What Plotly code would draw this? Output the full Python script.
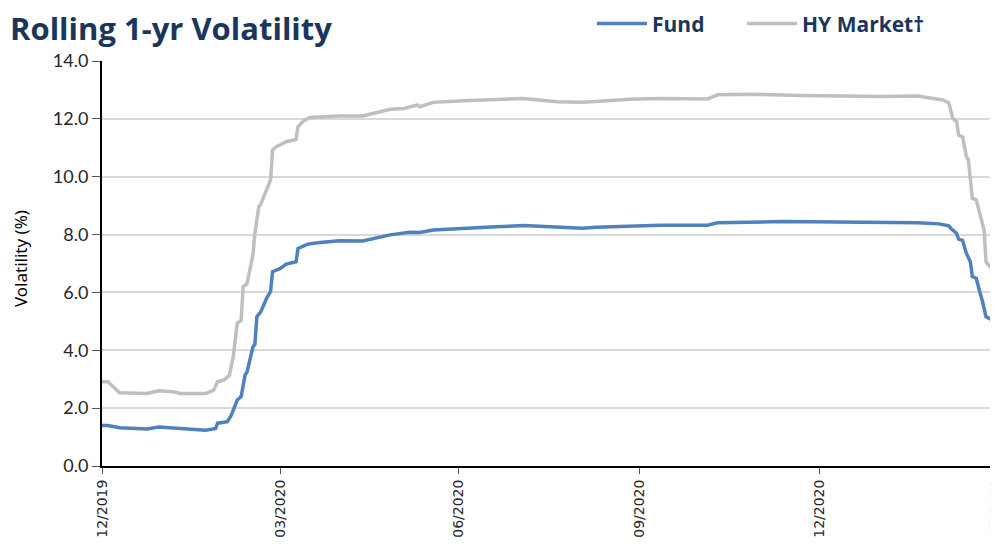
import plotly.graph_objects as go

# ---- data ----
fund_dates = [
    "2019-12-31", "2020-01-03", "2020-01-09", "2020-01-23", "2020-01-29", "2020-02-05",
    "2020-02-14", "2020-02-22", "2020-02-27", "2020-02-28", "2020-03-04", "2020-03-06",
    "2020-03-09", "2020-03-11", "2020-03-13", "2020-03-14", "2020-03-17", "2020-03-18",
    "2020-03-19", "2020-03-21", "2020-03-24", "2020-03-26", "2020-03-27", "2020-03-31",
    "2020-04-03", "2020-04-08", "2020-04-09", "2020-04-14", "2020-04-19", "2020-04-30",
    "2020-05-12", "2020-05-26", "2020-06-05", "2020-06-10", "2020-06-17", "2020-07-02",
    "2020-07-19", "2020-08-02", "2020-08-22", "2020-09-01", "2020-09-08", "2020-09-25",
    "2020-10-11", "2020-11-04", "2020-11-09", "2020-12-12", "2021-01-16", "2021-02-19",
    "2021-03-02", "2021-03-07", "2021-03-08", "2021-03-11", "2021-03-12", "2021-03-14",
    "2021-03-16", "2021-03-18", "2021-03-19", "2021-03-21", "2021-03-23", "2021-03-24",
    "2021-03-26", "2021-03-28", "2021-03-31",
]
fund_vol = [
    1.40, 1.40, 1.32, 1.28, 1.35, 1.31,
    1.27, 1.24, 1.30, 1.48, 1.53, 1.76,
    2.28, 2.40, 3.15, 3.25, 4.12, 4.20,
    5.16, 5.33, 5.80, 6.03, 6.72, 6.83,
    6.98, 7.06, 7.52, 7.67, 7.72, 7.79,
    7.78, 7.99, 8.08, 8.07, 8.16, 8.22,
    8.27, 8.31, 8.25, 8.22, 8.25, 8.29,
    8.32, 8.32, 8.41, 8.45, 8.42, 8.41,
    8.37, 8.30, 8.22, 8.04, 7.84, 7.80,
    7.35, 7.06, 6.55, 6.49, 5.97, 5.74,
    5.16, 5.10, 4.99,
]

hy_dates = [
    "2019-12-31", "2020-01-03", "2020-01-09", "2020-01-23", "2020-01-29", "2020-02-05",
    "2020-02-09", "2020-02-22", "2020-02-26", "2020-02-28", "2020-03-02", "2020-03-05",
    "2020-03-07", "2020-03-09", "2020-03-11", "2020-03-12", "2020-03-14", "2020-03-17",
    "2020-03-18", "2020-03-20", "2020-03-21", "2020-03-24", "2020-03-26", "2020-03-27",
    "2020-03-29", "2020-04-03", "2020-04-08", "2020-04-09", "2020-04-12", "2020-04-15",
    "2020-04-30", "2020-05-12", "2020-05-26", "2020-06-02", "2020-06-09", "2020-06-10",
    "2020-06-17", "2020-07-02", "2020-07-19", "2020-08-02", "2020-08-19", "2020-09-01",
    "2020-09-08", "2020-09-25", "2020-10-11", "2020-11-04", "2020-11-09", "2020-11-26",
    "2020-12-21", "2021-01-16", "2021-02-01", "2021-02-19", "2021-02-27", "2021-03-04",
    "2021-03-07", "2021-03-09", "2021-03-11", "2021-03-12", "2021-03-14", "2021-03-16",
    "2021-03-17", "2021-03-19", "2021-03-21", "2021-03-24", "2021-03-25", "2021-03-26",
    "2021-03-28", "2021-03-31",
]
hy_vol = [
    2.91, 2.91, 2.53, 2.51, 2.60, 2.57,
    2.51, 2.51, 2.62, 2.91, 2.97, 3.13,
    3.80, 4.94, 5.03, 6.20, 6.30, 7.30,
    8.05, 8.96, 9.05, 9.54, 9.89, 10.92,
    11.04, 11.21, 11.29, 11.73, 11.94, 12.05,
    12.10, 12.10, 12.33, 12.36, 12.48, 12.42,
    12.57, 12.63, 12.68, 12.70, 12.59, 12.57,
    12.60, 12.68, 12.70, 12.69, 12.83, 12.85,
    12.81, 12.79, 12.77, 12.79, 12.71, 12.65,
    12.56, 12.02, 11.90, 11.44, 11.38, 10.69,
    10.58, 9.25, 9.20, 8.33, 8.16, 7.06,
    6.89, 6.75,
]

tick_dates = ["2019-12-31", "2020-03-31", "2020-06-30", "2020-09-30", "2020-12-31", "2021-03-31"]
tick_labels = ["12/2019", "03/2020", "06/2020", "09/2020", "12/2020", "03/2021"]
y_ticks = [0, 2, 4, 6, 8, 10, 12, 14]

NAVY = "#1B365D"
W, H = 990, 536  # page body adds an 8px offset

fig = go.Figure()
fig.add_trace(go.Scatter(
    x=fund_dates, y=fund_vol, name="Fund", mode="lines",
    line=dict(color="#4F81BD", width=3.5), legend="legend",
))
fig.add_trace(go.Scatter(
    x=hy_dates, y=hy_vol, name="HY Market†", mode="lines",
    line=dict(color="#BFBFBF", width=3.5), legend="legend2",
))

legend_style = dict(
    orientation="h", xanchor="left", y=1.092, yanchor="middle",
    font=dict(family="Open Sans", size=21, color=NAVY, weight="bold"),
    itemwidth=50, bgcolor="rgba(0,0,0,0)",
)

fig.update_layout(
    width=W, height=H,
    margin=dict(l=94, r=2, t=53, b=78, autoexpand=False),
    paper_bgcolor="white", plot_bgcolor="white",
    title=dict(
        text="<b>Rolling 1-yr Volatility</b>",
        font=dict(family="Open Sans", size=31, color=NAVY),
        x=2 / W, xref="container", xanchor="left",
        y=1 - 21 / H, yref="container", yanchor="middle",
        pad=dict(l=0, r=0, t=0, b=0),
    ),
    legend=dict(x=0.5481, **legend_style),
    legend2=dict(x=0.7159, **legend_style),
    showlegend=True,
    annotations=[dict(
        text="Volatility (%)", textangle=-90,
        xref="paper", yref="paper", x=(20 - 102) / 894, y=0.511,
        xanchor="center", yanchor="middle", showarrow=False,
        font=dict(family="Noto Sans", size=17, color="black"),
    )],
)

fig.update_yaxes(
    range=[0, 14], tickvals=y_ticks, tickformat=".1f",
    showgrid=True, gridcolor="#D9D9D9", gridwidth=2,
    showline=True, linecolor="black", linewidth=2,
    ticks="outside", ticklen=8, tickcolor="#555555", tickwidth=1,
    tickfont=dict(family="Lato", size=18, color="#262626"),
    zeroline=False, automargin=False,
)
fig.update_xaxes(
    type="date", range=["2019-12-31", "2021-03-31 02:00"],
    tickvals=tick_dates, ticktext=tick_labels, tickangle=-90,
    showgrid=False, showline=True, linecolor="black", linewidth=2,
    ticks="outside", ticklen=6, tickcolor="#555555", tickwidth=1,
    tickfont=dict(family="DejaVu Sans", size=14, color="#262626"),
    ticklabeloverflow="allow",
    automargin=False,
)

fig.write_html("out.html")
